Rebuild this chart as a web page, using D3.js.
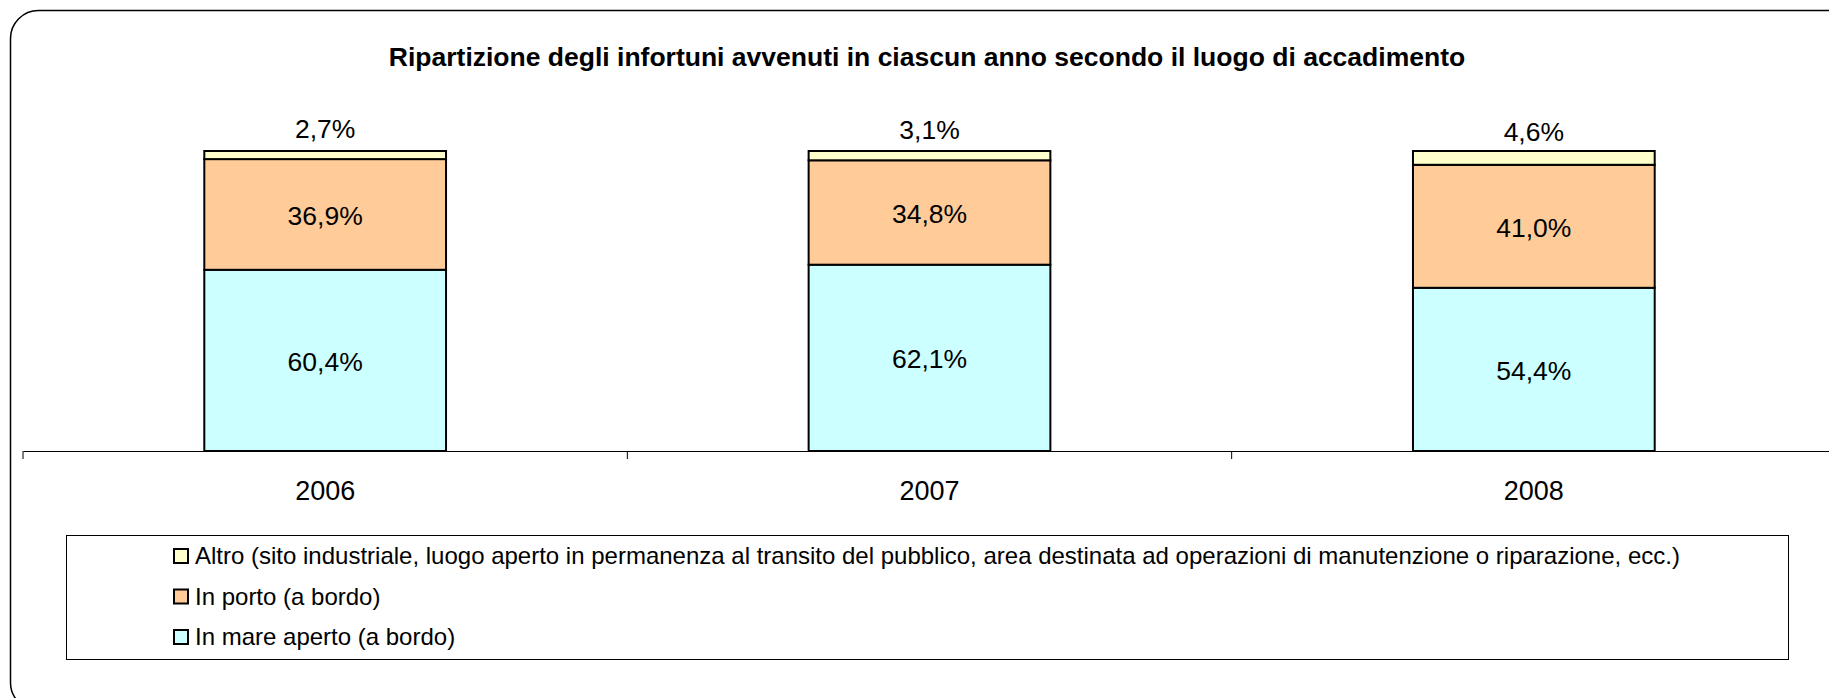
<!DOCTYPE html>
<html>
<head>
<meta charset="utf-8">
<script src="https://cdn.jsdelivr.net/npm/d3@7"></script>
<style>
  html, body { margin: 0; padding: 0; background: #fff; }
  svg { display: block; font-family: "Liberation Sans", Arial, sans-serif; }
</style>
</head>
<body>
<svg id="chart" width="1829" height="698"></svg>
<script>
const title = "Ripartizione degli infortuni avvenuti in ciascun anno secondo il luogo di accadimento";
const years = ["2006", "2007", "2008"];
const seriesNames = [
  "In mare aperto (a bordo)",
  "In porto (a bordo)",
  "Altro (sito industriale, luogo aperto in permanenza al transito del pubblico, area destinata ad operazioni di manutenzione o riparazione, ecc.)"
];
const mareAperto = [60.4, 62.1, 54.4];
const inPorto = [36.9, 34.8, 41.0];
const altro = [2.7, 3.1, 4.6];
const seriesColors = ["#CCFFFF", "#FFCC99", "#FFFFCC"];

const svg = d3.select("#chart");

// outer rounded frame
svg.append("rect")
  .attr("x", 10.5).attr("y", 10.5)
  .attr("width", 1860).attr("height", 700)
  .attr("rx", 28).attr("ry", 28)
  .attr("fill", "#fff").attr("stroke", "#000").attr("stroke-width", 1.5);

// title
svg.append("text")
  .attr("x", 927).attr("y", 57)
  .attr("dy", "0.35em")
  .attr("text-anchor", "middle")
  .attr("font-weight", "bold")
  .attr("font-size", 26.5)
  .attr("fill", "#000")
  .text(title);

const x = d3.scaleBand().domain(years).range([23, 1836]).padding(0);
const y = d3.scaleLinear().domain([0, 100]).range([451, 151]);
const barFrac = 0.4;
const bw = x.bandwidth() * barFrac;

const seriesData = [mareAperto, inPorto, altro];
const table = years.map((yr, i) => {
  const o = { year: yr };
  seriesNames.forEach((s, k) => o[s] = seriesData[k][i]);
  return o;
});
const stacked = d3.stack().keys(seriesNames)(table);

const g = svg.append("g");
stacked.forEach((layer, k) => {
  g.selectAll(null).data(layer).enter().append("rect")
    .attr("x", d => x(d.data.year) + (x.bandwidth() - bw) / 2)
    .attr("y", d => y(d[1]))
    .attr("width", bw)
    .attr("height", d => y(d[0]) - y(d[1]))
    .attr("fill", seriesColors[k])
    .attr("stroke", "#000")
    .attr("stroke-width", 2);
});

const fmt = v => v.toFixed(1).replace(".", ",") + "%";
stacked.forEach((layer, k) => {
  g.selectAll(null).data(layer).enter().append("text")
    .attr("x", d => x(d.data.year) + x.bandwidth() / 2)
    .attr("y", d => k === 2 ? (y(d[0]) + y(d[1])) / 2 - 26 : (y(d[0]) + y(d[1])) / 2 + 1)
    .attr("dy", "0.35em")
    .attr("text-anchor", "middle")
    .attr("font-size", 26.5)
    .attr("fill", "#000")
    .text(d => fmt(d[1] - d[0]));
});

// x axis
const axis = d3.axisBottom(x).tickSize(0).tickFormat(d => d);
const ax = svg.append("g").attr("transform", "translate(0,451)").call(axis);
ax.select(".domain").attr("stroke", "#000").attr("stroke-width", 1);
ax.selectAll(".tick text")
  .attr("font-family", "Liberation Sans, Arial, sans-serif")
  .attr("font-size", 27).attr("fill", "#000").attr("y", 49).attr("dy", "0em");
// ticks between categories
const bounds = years.map(yr => x(yr)).concat([x(years[years.length - 1]) + x.bandwidth()]);
ax.selectAll(".sep").data(bounds).enter().append("line")
  .attr("x1", d => d).attr("x2", d => d)
  .attr("y1", 0).attr("y2", 8)
  .attr("stroke", "#000").attr("stroke-width", 1);

// legend
const lg = svg.append("g");
lg.append("rect")
  .attr("x", 66.5).attr("y", 535.5).attr("width", 1722).attr("height", 124)
  .attr("fill", "#fff").attr("stroke", "#000").attr("stroke-width", 1);
const legendOrder = [2, 1, 0];
legendOrder.forEach((k, i) => {
  const cy = 556 + i * 40.5;
  lg.append("rect")
    .attr("x", 174).attr("y", cy - 7).attr("width", 14).attr("height", 14)
    .attr("fill", seriesColors[k]).attr("stroke", "#000").attr("stroke-width", 2);
  lg.append("text")
    .attr("x", 195).attr("y", cy).attr("dy", "0.35em")
    .attr("font-size", 24).attr("fill", "#000")
    .text(seriesNames[k]);
});
</script>
</body>
</html>
